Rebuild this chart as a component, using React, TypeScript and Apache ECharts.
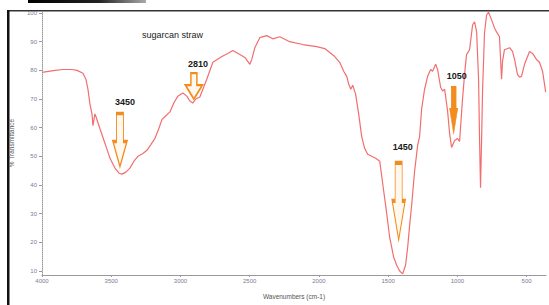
import React, { useEffect, useRef } from "react";
import * as echarts from "echarts";

const wavenumbers = [
  4000, 3906, 3848, 3784, 3747, 3704, 3683, 3668, 3654, 3639, 3632, 3618, 3610, 3582, 3545, 3509, 3473, 3444, 3423, 3394,
  3365, 3336, 3307, 3271, 3242, 3214, 3185, 3156, 3134, 3113, 3076, 3048, 3019, 2983, 2954, 2932, 2911, 2889, 2860, 2838,
  2810, 2766, 2701, 2658, 2622, 2571, 2535, 2514, 2499, 2485, 2463, 2427, 2377, 2333, 2283, 2211, 2117, 2016, 1958, 1922,
  1886, 1850, 1821, 1799, 1785, 1770, 1756, 1735, 1713, 1691, 1670, 1648, 1619, 1590, 1561, 1540, 1511, 1489, 1460, 1439,
  1417, 1395, 1374, 1359, 1345, 1330, 1309, 1287, 1273, 1258, 1237, 1215, 1193, 1179, 1157, 1143, 1121, 1107, 1092, 1071,
  1056, 1042, 1020, 999, 984, 963, 948, 934, 912, 890, 876, 861, 847, 840, 833, 825, 818, 804, 789, 775,
  753, 732, 717, 696, 688, 681, 674, 660, 623, 602, 587, 566, 551, 537, 515, 479, 457, 429, 407, 385, 362,
];
const transmittance = [
  79.3, 80.0, 80.3, 80.3, 80.0, 79.0, 76.9, 73.4, 68.3, 64.8, 60.7, 64.8, 63.8, 59.7, 54.5, 49.3, 45.9, 44.1, 43.8, 44.5,
  45.9, 48.3, 50.0, 51.0, 52.1, 54.1, 56.2, 59.7, 62.8, 63.8, 65.5, 68.6, 71.0, 72.1, 71.0, 69.3, 68.6, 70.0, 70.7, 73.4,
  76.9, 82.8, 84.8, 85.9, 86.9, 85.5, 84.5, 83.1, 82.1, 83.8, 87.9, 91.4, 92.1, 91.0, 91.7, 90.0, 89.0, 88.3, 87.6, 86.2,
  84.8, 82.8, 79.7, 77.9, 75.2, 73.4, 74.8, 71.7, 64.8, 56.9, 52.8, 50.7, 50.0, 49.3, 48.3, 40.7, 30.3, 21.7, 14.8, 12.1,
  10.0, 9.0, 12.1, 18.3, 25.9, 33.1, 44.8, 53.8, 56.9, 66.6, 73.4, 77.9, 80.3, 79.7, 82.1, 80.3, 74.1, 72.8, 73.4, 65.9,
  57.9, 53.1, 55.5, 56.2, 55.2, 70.0, 78.6, 85.5, 87.2, 95.9, 96.9, 93.4, 76.9, 56.2, 39.0, 56.2, 73.4, 93.1, 99.3, 100.3,
  97.6, 94.8, 93.4, 91.7, 83.8, 76.9, 83.1, 87.2, 87.9, 86.6, 83.8, 78.6, 77.6, 77.9, 82.1, 86.6, 85.9, 83.8, 82.8, 79.7, 72.4,
];
const xTicks = [4000, 3500, 3000, 2500, 2000, 1500, 1000, 500];
const yTicks = [10, 20, 30, 40, 50, 60, 70, 80, 90, 100];

const peakLabels = ["3450", "2810", "1450", "1050"];
const arrowWave = [3437, 2903, 1424, 1027];
const arrowT = [55.7, 74.5, 34.3, 66.0];

const arrowPaths = [
  "path://M3.5,0 L10.5,0 L10.5,28 L14,28 L7,53 L0,28 L3.5,28 Z",
  "path://M5.5,0 L11.5,0 L11.5,12 L17,12 L8.5,26 L0,12 L5.5,12 Z",
  "path://M3,0 L10,0 L10,38 L13,38 L6.5,77 L0,38 L3,38 Z",
  "path://M1.5,0 L6.5,0 L6.5,22 L8,22 L4,47 L0,22 L1.5,22 Z",
];
const arrowSizes = [
  [14, 53],
  [17, 26],
  [13, 77],
  [8, 47],
];
const labelDist = [5, 3, 9, 5];
const labelOffX = [5, 4, 4, 3];

export default function App() {
  const ref = useRef<HTMLDivElement>(null);
  useEffect(() => {
    if (!ref.current) return;
    const chart = echarts.init(ref.current, null, { renderer: "svg" });
    const data = wavenumbers.map((w, i) => [w, transmittance[i]]);
    const orange = "#f28c1e";
    const labelColor = "#7c7a95";
    chart.setOption({
      animation: false,
      backgroundColor: "#ffffff",
      title: {
        text: "sugarcan straw",
        left: 137,
        top: 25,
        textStyle: { fontSize: 9, fontWeight: "normal", color: "#222", fontFamily: "Liberation Sans" },
      },
      grid: { left: 42, right: 3, top: 11, bottom: 27 },
      xAxis: {
        type: "value",
        inverse: true,
        min: 360,
        max: 4000,
        name: "Wavenumbers (cm-1)",
        nameLocation: "middle",
        nameGap: 18,
        nameTextStyle: { fontSize: 6.5, color: "#555", fontFamily: "Liberation Sans" },
        splitLine: { show: false },
        axisLine: { lineStyle: { color: "#999", width: 1 } },
        axisTick: { show: true, customValues: xTicks, length: 2, lineStyle: { color: "#999" } },
        axisLabel: {
          customValues: xTicks,
          fontSize: 6,
          color: labelColor,
          margin: 3,
          fontFamily: "Liberation Sans",
          formatter: (v: number) => String(Math.round(v)),
        },
      },
      yAxis: {
        type: "value",
        min: 8.6,
        max: 100.7,
        name: "% Transmittance",
        nameLocation: "middle",
        nameGap: 27,
        nameTextStyle: { fontSize: 6.5, color: "#555", fontFamily: "Liberation Sans" },
        splitLine: { show: false },
        axisLine: { show: true, lineStyle: { color: "#999", width: 1, type: "dotted" } },
        axisTick: { show: true, customValues: yTicks, length: 3, lineStyle: { color: "#999" } },
        axisLabel: {
          customValues: yTicks,
          fontSize: 6,
          color: labelColor,
          margin: 5,
          fontFamily: "Liberation Sans",
          formatter: (v: number) => String(Math.round(v)),
        },
      },
      series: [
        {
          type: "line",
          data,
          showSymbol: false,
          clip: false,
          lineStyle: { color: "#f26e6e", width: 1.2 },
          markPoint: {
            silent: true,
            data: peakLabels.map((lab, i) => ({
              coord: [arrowWave[i], arrowT[i]],
              symbol: arrowPaths[i],
              symbolSize: arrowSizes[i],
              itemStyle: {
                color: i === 3 ? orange : "#fff8ef",
                borderColor: orange,
                borderWidth: i === 3 ? 0.8 : 1.8,
              },
              label: {
                show: true,
                position: "top",
                distance: labelDist[i],
                offset: [labelOffX[i], 0],
                formatter: lab,
                color: "#1a1a1a",
                fontSize: 9,
                fontWeight: "bold",
                fontFamily: "Liberation Sans",
              },
            })),
          },
        },
      ],
      graphic: [
        {
          type: "rect",
          shape: { x: 28, y: 0, width: 118, height: 3 },
          style: {
            fill: new echarts.graphic.LinearGradient(0, 0, 1, 0, [
              { offset: 0, color: "#000" },
              { offset: 0.6, color: "#222" },
              { offset: 1, color: "#aaa" },
            ]),
          },
        },
        { type: "rect", shape: { x: 7, y: 10, width: 542, height: 1.5 }, style: { fill: "#333" } },
        { type: "rect", shape: { x: 7, y: 10, width: 2.5, height: 295 }, style: { fill: "#111" } },
      ],
    });
    return () => chart.dispose();
  }, []);
  return (
    <div
      ref={ref}
      style={{ position: "absolute", left: 0, top: 0, width: 549, height: 305, background: "#fff" }}
    />
  );
}
